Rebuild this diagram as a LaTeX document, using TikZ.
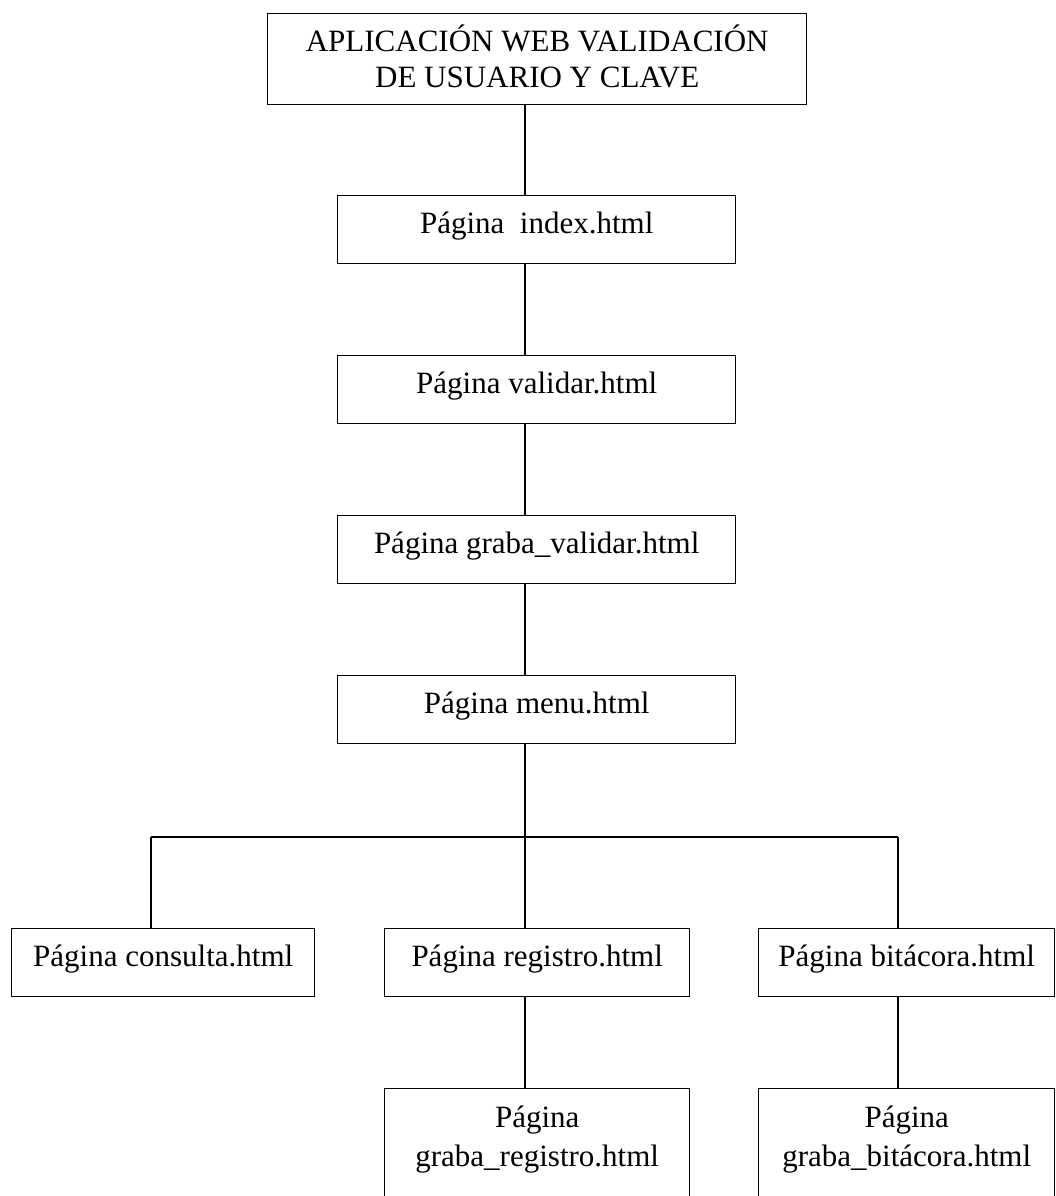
\documentclass[tikz,border=0pt]{standalone}
\usepackage{fontspec}
\setmainfont{Liberation Serif}
\begin{document}
\begin{tikzpicture}[x=1pt,y=-1pt,
  box/.style={draw, line width=1.4pt, inner sep=0pt, anchor=north west,
    font=\fontsize{31}{37}\selectfont},
  onebox/.style={box, text height=38pt, text depth=30pt, minimum height=68pt},
  link/.style={line width=1.4pt}]
\useasboundingbox (0,0) rectangle (1056,1196);

% title box
\node[box, minimum width=539pt, text height=38pt, text depth=53pt,
      font=\fontsize{31}{36}\selectfont] (top) at (267,13)
  {\begin{tabular}[t]{@{}c@{}}APLICACIÓN WEB VALIDACIÓN\\DE USUARIO Y CLAVE\end{tabular}};

% main chain of pages
\node[onebox, minimum width=398pt] (idx) at (337,195) {Página\ \ index.html};
\node[onebox, minimum width=398pt] (val) at (337,355) {Página validar.html};
\node[onebox, minimum width=398pt] (gval) at (337,515) {Página graba\_validar.html};
\node[onebox, minimum width=398pt] (menu) at (337,675) {Página menu.html};

% pages reached from the menu
\node[onebox, minimum width=303pt] (cons) at (11,928) {Página consulta.html};
\node[onebox, minimum width=305pt] (reg) at (384,928) {Página registro.html};
\node[onebox, minimum width=296pt] (bit) at (758,928) {Página bitácora.html};

% second-level pages
\node[box, minimum width=305pt, text height=39pt, text depth=100pt,
      font=\fontsize{31}{39}\selectfont] (greg) at (384,1088)
  {\begin{tabular}[t]{@{}c@{}}Página\\graba\_registro.html\end{tabular}};
\node[box, minimum width=296pt, text height=39pt, text depth=100pt,
      font=\fontsize{31}{39}\selectfont] (gbit) at (758,1088)
  {\begin{tabular}[t]{@{}c@{}}Página\\graba\_bitácora.html\end{tabular}};

% branch points on the distribution bar
\coordinate (jL) at (151,837);
\coordinate (jM) at (525,837);
\coordinate (jR) at (898,837);

% connectors
\draw[link] (jM |- top.south) -- (jM |- idx.north);
\draw[link] (jM |- idx.south) -- (jM |- val.north);
\draw[link] (jM |- val.south) -- (jM |- gval.north);
\draw[link] (jM |- gval.south) -- (jM |- menu.north);
\draw[link] (jM |- menu.south) -- (jM);
\draw[link] (jL) -- (jR);
\draw[link] (jL) -- (jL |- cons.north);
\draw[link] (jM) -- (jM |- reg.north);
\draw[link] (jR) -- (jR |- bit.north);
\draw[link] (jM |- reg.south) -- (jM |- greg.north);
\draw[link] (jR |- bit.south) -- (jR |- gbit.north);
\end{tikzpicture}
\end{document}
